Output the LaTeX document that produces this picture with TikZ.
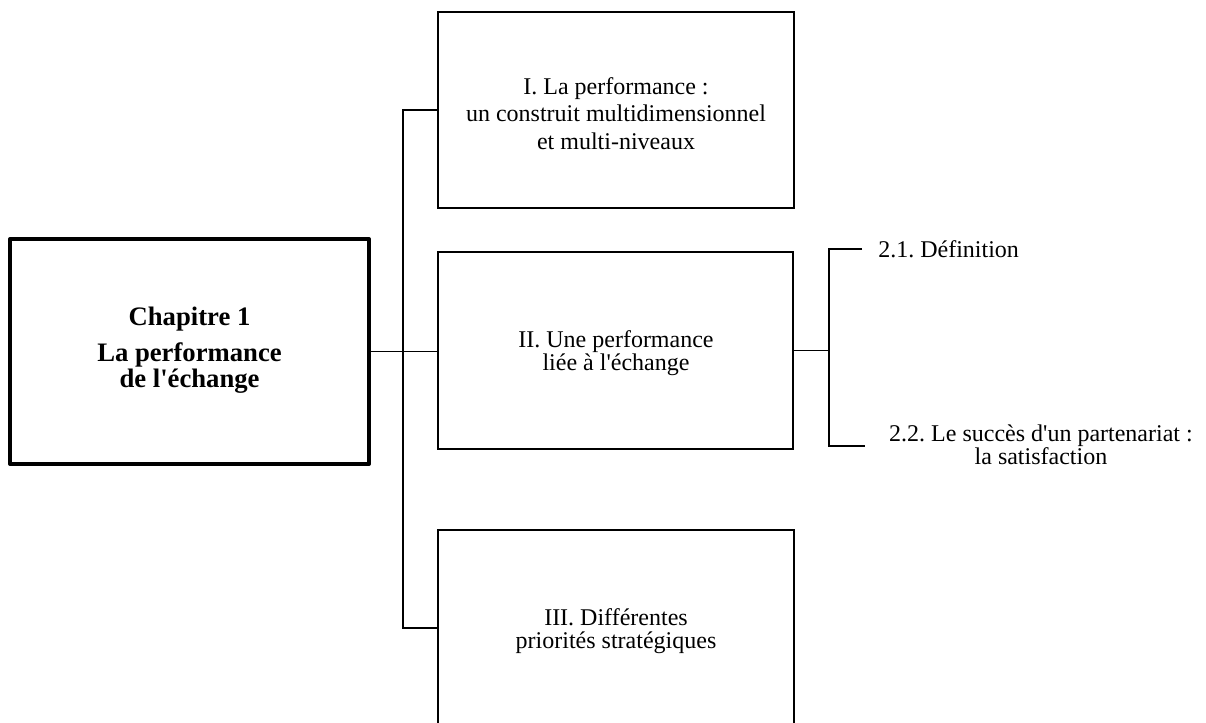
\documentclass[tikz,border=0pt]{standalone}
\usepackage{fontspec}
\setmainfont{Liberation Serif}[Ligatures=TeXOff]
\begin{document}
\frenchspacing
\begin{tikzpicture}[x=0.75pt,y=-0.75pt,
  chapbox/.style={draw,line width=3pt,line join=round,minimum width=269.25pt,minimum height=168.75pt,inner sep=0pt},
  partbox/.style={draw,line width=0.8pt,minimum width=267pt,minimum height=147pt,inner sep=0pt},
  txt/.style={inner sep=0pt,align=center,font=\fontsize{18}{20.5}\selectfont},
  txtb/.style={inner sep=0pt,align=center,font=\fontsize{18}{17.5}\selectfont},
  link/.style={line width=0.8pt}]
\useasboundingbox (0,0) rectangle (1206,722);
\clip (0,0) rectangle (1206,722);

% chapter box
\node[chapbox] (chap) at (189.5,351.5) {};
\node[inner sep=0pt,align=center,font=\fontsize{20}{19.3}\selectfont\bfseries] (chapt) at (189.5,350.5)
  {Chapitre 1\\[7.7pt]La performance\\de l'échange};

% the three parts
\node[partbox] (p1) at (616,110) {};
\node[partbox,minimum width=266.25pt,minimum height=147.75pt] (p2) at (615.5,350.5) {};
\node[partbox] (p3) at (616,628) {};

\node[txt] (p1t) at (616,113.5) {I. La performance :\\un construit multidimensionnel\\et multi-niveaux};
\node[txtb] (p2t) at (616,352.8) {II. Une performance\\liée à l'échange};
\node[txtb] (p3t) at (616,631) {III. Différentes\\priorités stratégiques};

% bus linking the chapter to its parts
\coordinate (bustop) at (403,110);
\draw[link] (chap.east) -- (chap.east -| p2.west);
\draw[link] (p1.west) -- (bustop) |- (p3.west);

% sub-sections of part II
\coordinate (sjoin) at (829,350.5);
\coordinate (s1) at (862,249);
\coordinate (s2) at (865,446);
\draw[link] (p2.east) -- (sjoin);
\draw[link] (s1) -| (sjoin) |- (s2);
\node[txt,anchor=base west] (s1t) at (878,257) {2.1. Définition};
\node[txtb] (s2t) at (1041,445) {2.2. Le succès d'un partenariat :\\la satisfaction};
\end{tikzpicture}
\end{document}
